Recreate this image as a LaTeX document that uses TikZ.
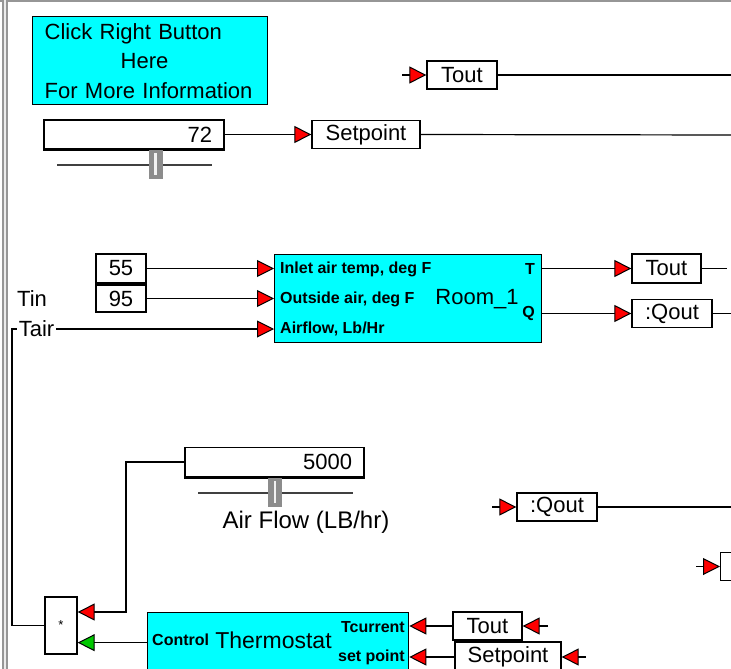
\documentclass[tikz,border=0pt]{standalone}
\usepackage{fontspec}
\setmainfont{Liberation Sans}
\usetikzlibrary{arrows.meta}
\definecolor{blockcyan}{RGB}{0,255,255}
\definecolor{pinred}{RGB}{255,0,0}
\definecolor{pingreen}{RGB}{0,200,0}
\definecolor{knobgray}{RGB}{140,140,140}
\definecolor{framegray}{RGB}{150,150,150}

\begin{document}
\begin{tikzpicture}[x=1pt, y=-1pt,
    every node/.style={font=\fontsize{22}{25}\selectfont},
    lbl/.style={rectangle, draw, line width=1.3pt, fill=white, inner sep=0pt, minimum height=28pt},
    numbox/.style={rectangle, draw, line width=1.3pt, fill=white, inner xsep=12pt, inner ysep=0pt, minimum height=29pt, align=right},
    block/.style={rectangle, draw, line width=1.3pt, fill=blockcyan, inner sep=0pt, anchor=north west},
    port/.style={font=\fontsize{16}{18}\selectfont\bfseries, inner sep=0pt},
    knob/.style={rectangle, fill=knobgray, inner sep=0pt, minimum width=14pt, minimum height=29pt},
    track/.style={line width=1.3pt, black!75},
    wire/.style={line width=1.2pt},
    pin/.style={wire, -{Triangle[length=17pt, width=17pt, fill=pinred, line width=1pt]}},
    gpin/.style={wire, -{Triangle[length=17pt, width=17pt, fill=pingreen, line width=1pt]}}
]
\clip (0,0) rectangle (731,669);
\fill[white] (0,0) rectangle (731,669);
\draw[framegray, line width=1.5pt] (0,0.8) -- (731,0.8);
\fill[framegray] (2,0) rectangle (8,669);
\draw[white!85!gray, line width=1.5pt] (5,0) -- (5,669);

% info box and setpoint slider
\node[block, text width=211pt, inner xsep=12pt, minimum height=88pt, align=left,
      font=\fontsize{22}{29.5}\selectfont] (info) at (32,16)
      {Click Right Button\\\hspace*{76pt}Here\\For More Information};

\node[numbox, text width=156pt] (sp) at (134,134.5) {72};
\draw[line width=3pt] (sp.south west) -- (sp.south east);
\draw[track] (57,165) -- (212,165);
\node[knob] (spknob) at (155.5,164) {};
\draw[white!90!gray, line width=2.5pt] ([yshift=-4pt]spknob.north) -- ([yshift=4pt]spknob.south);

\node[lbl, minimum width=108pt] (spout) at (366,134.5) {Setpoint};
\coordinate (spoutR) at (735,135);
\draw[pin] (sp.east) -- (spout.west);
\draw[wire] (spout.east) -- (spoutR);

\node[lbl, minimum width=70pt] (toutA) at (462,75) {Tout};
\coordinate (toutAin) at (402,75);
\coordinate (toutAR) at (735,75);
\draw[pin] (toutAin) -- (toutA.west);
\draw[wire] (toutA.east) -- (toutAR);

% room model
\node[block, minimum width=267pt, minimum height=88pt] (room) at (274,254) {};
\node[port, anchor=west] (rin1) at (280,269) {Inlet air temp, deg F};
\node[port, anchor=west] (rin2) at (280,299) {Outside air, deg F};
\node[port, anchor=west] (rin3) at (280,329) {Airflow, Lb/Hr};
\node[port, anchor=east] (rT) at (535,269) {T};
\node[port, anchor=east] (rQ) at (535,313) {Q};
\node (roomlbl) at (477,299) {Room\_1};

\node[numbox, inner xsep=0pt, align=center, minimum width=50pt] (n55) at (121,268.5) {55};
\draw[line width=3pt] (n55.south west) -- (n55.south east);
\node[numbox, inner xsep=0pt, align=center, minimum width=50pt, minimum height=27pt] (n95) at (121,298.5) {95};
\node[inner sep=1pt] (tin) at (32,299) {Tin};
\node[inner xsep=2pt, inner ysep=0pt] (tair) at (36.5,329) {Tair};

\draw[pin] (n55.east) -- (n55.east -| room.west);
\draw[pin] (n95.east) -- (n95.east -| room.west);
\draw[pin] (tair.east) -- (tair.east -| room.west);

\node[lbl, minimum width=69pt, minimum height=29pt] (toutB) at (666.5,268.5) {Tout};
\node[lbl, minimum width=80pt] (qoutA) at (672,313.5) {:Qout};
\coordinate (toutBR) at (727,268.5);
\coordinate (qoutAR) at (735,313.5);
\draw[pin] (toutB.west -| room.east) -- (toutB.west);
\draw[pin] (qoutA.west -| room.east) -- (qoutA.west);
\draw[wire] (toutB.east) -- (toutBR);
\draw[wire] (qoutA.east) -- (qoutAR);

% air flow slider
\node[numbox, text width=155pt] (af) at (274.5,462) {5000};
\draw[line width=3pt] (af.south west) -- (af.south east);
\draw[track] (198,493) -- (353,493);
\node[knob] (afknob) at (275,492) {};
\draw[white!90!gray, line width=2.5pt] ([yshift=-4pt]afknob.north) -- ([yshift=4pt]afknob.south);
\node[font=\fontsize{24}{27}\selectfont] (aflbl) at (306,522) {Air Flow (LB/hr)};

\node[lbl, minimum width=80pt] (qoutB) at (557,507) {:Qout};
\coordinate (qoutBin) at (492,507);
\coordinate (qoutBR) at (735,507);
\draw[pin] (qoutBin) -- (qoutB.west);
\draw[wire] (qoutB.east) -- (qoutBR);

\node[lbl, minimum width=30pt, anchor=west] (cutbox) at (720,566.5) {};
\coordinate (cutin) at (696,566.5);
\draw[pin] (cutin) -- (cutbox.west);

% multiplier and thermostat
\node[rectangle, draw, line width=1.3pt, fill=white, minimum width=32pt, minimum height=57pt,
      inner sep=0pt, font=\fontsize{13}{13}\selectfont] (mult) at (61,625.5) {*};
\node[block, minimum width=261pt, minimum height=60pt] (thermo) at (147,612) {};
\node[port, anchor=west] (tctl) at (152,640) {Control};
\node[font=\fontsize{23}{26}\selectfont] (tname) at (273.5,640) {Thermostat};
\node[port, anchor=east] (tcur) at (405,627) {Tcurrent};
\node[port, anchor=east] (tset) at (405,657) {set point};

\coordinate (tairc) at (12,329);
\coordinate (afbend) at (126,612);
\draw[wire] (mult.west) -| (tairc) -- (tair.west);
\draw[pin] (af.west) -| (afbend) -- (afbend -| mult.east);
\draw[gpin] (thermo.west) -- (thermo.west -| mult.east);

\node[lbl, minimum width=69pt] (toutC) at (487.5,626) {Tout};
\node[lbl, minimum width=106pt, minimum height=30pt] (setC) at (508,657) {Setpoint};
\coordinate (toutCin) at (548,626);
\coordinate (setCin) at (586,657);
\draw[pin] (toutC.west) -- (toutC.west -| thermo.east);
\draw[pin] (setC.west) -- (setC.west -| thermo.east);
\draw[pin] (toutCin) -- (toutC.east);
\draw[pin] (setCin) -- (setC.east);
\end{tikzpicture}
\end{document}
